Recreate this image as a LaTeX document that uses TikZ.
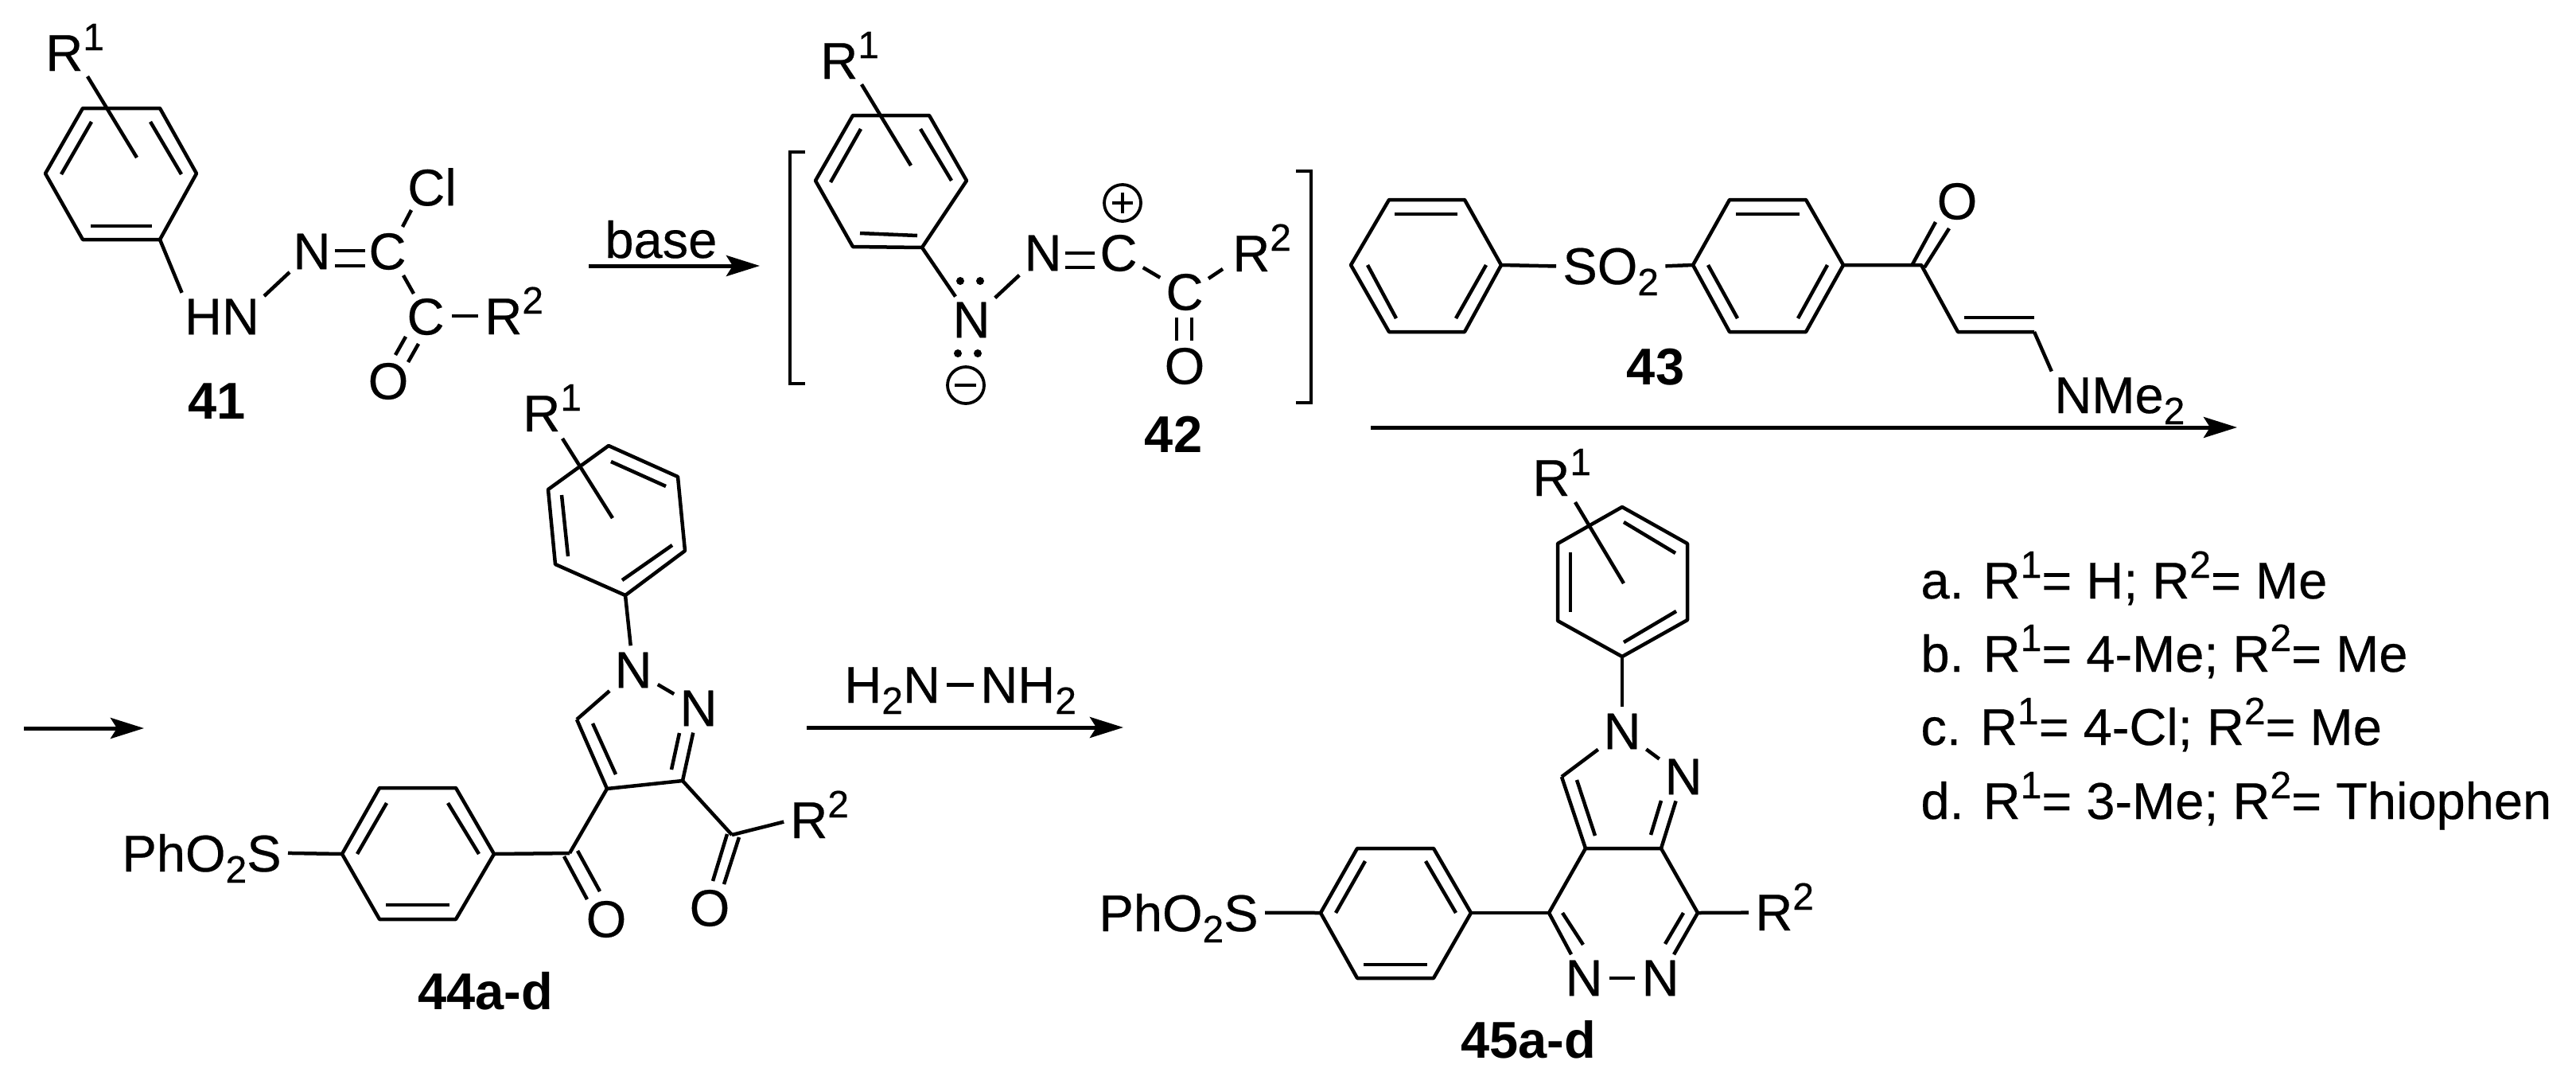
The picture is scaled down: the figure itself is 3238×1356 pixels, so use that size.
\documentclass[tikz,border=0pt]{standalone}
\usepackage{fontspec}
\setmainfont{Liberation Sans}[FakeBold=0.35,BoldFeatures={FakeBold=0}]
\usetikzlibrary{arrows.meta}
\newcommand\chemup[1]{\smash{\raisebox{13pt}{\fontsize{24}{24}\selectfont #1}}}
\newcommand\chemdn[1]{\smash{\raisebox{-7pt}{\fontsize{24}{24}\selectfont #1}}}
\newcommand\pbond[3]{\coordinate (#1a) at (#2); \coordinate (#1b) at (#3); \draw[bond] (#1a) -- (#1b);}
\newcommand\ringsix[7]{\coordinate (#1a) at (#2); \coordinate (#1b) at (#3); \coordinate (#1c) at (#4); \coordinate (#1d) at (#5); \coordinate (#1e) at (#6); \coordinate (#1f) at (#7); \draw[bond] (#1a)--(#1b)--(#1c)--(#1d)--(#1e)--(#1f)--cycle;}
\tikzset{
  bond/.style={draw=black,line width=2.25pt,line join=round},
  ba/.style={bond,shorten >=4pt},
  ab/.style={bond,shorten <=4pt},
  aa/.style={bond,shorten <=4pt,shorten >=4pt},
  atom/.style={inner sep=0pt,font=\fontsize{32.5}{39}\selectfont},
  lab/.style={inner sep=0pt,anchor=base west,font=\fontsize{32.5}{39}\selectfont},
  cmp/.style={inner sep=0pt,anchor=base,font=\fontsize{32.5}{39}\selectfont\bfseries},
  rxn/.style={draw=black,line width=2.5pt,-{Stealth[length=21pt,width=13pt,inset=4pt]}},
  chg/.style={circle,draw=black,line width=1.9pt,minimum size=23pt,inner sep=0pt},
  ldot/.style={circle,fill=black,minimum size=5pt,inner sep=0pt}
}
\begin{document}
\begin{tikzpicture}[x=0.5pt,y=-0.5pt]
\useasboundingbox (0,0) rectangle (3238,1356);

% ---------- 41 ----------
\ringsix{r41}{57,218}{104,136}{201,136}{247,218}{201,301}{104,301}
\pbond{i41x}{77,219}{115,153}
\pbond{i41y}{189,153}{228,219}
\pbond{i41z}{114,284}{191,284}
\pbond{s41}{110,96}{172,198}
\node[lab] (R41) at (57,89) {R\chemup{1}};
\node[atom] (hn41) at (279,398) {HN};
\node[atom] (n41) at (392,316) {N};
\node[atom] (c41a) at (487,316) {C};
\node[atom] (cl41) at (543,235) {Cl};
\node[atom] (c41b) at (535,398) {C};
\node[atom] (o41) at (488,479) {O};
\node[lab] (R41b) at (609,420) {R\chemup{2}};
\draw[ba] (r41e) -- (hn41.north west);
\pbond{b41a}{332,372}{364,342}
\pbond{d41a}{421,315}{459,315}
\pbond{d41b}{421,334}{459,334}
\pbond{b41b}{506,285}{517,264}
\pbond{b41c}{507,346}{520,369}
\pbond{b41d}{568,397}{601,397}
\pbond{d41c}{510,423}{497,446}
\pbond{d41d}{526,432}{513,455}
\node[cmp] (l41) at (273,526) {41};
\coordinate (a1s) at (740,334); \coordinate (a1e) at (955,334);
\draw[rxn] (a1s) -- (a1e);
\node[lab] (base) at (760,324) {base};

% ---------- 42 ----------
\coordinate (bl1) at (1012,191); \coordinate (bl2) at (993,191); \coordinate (bl3) at (993,482); \coordinate (bl4) at (1012,482);
\draw[bond,line join=miter] (bl1)--(bl2)--(bl3)--(bl4);
\coordinate (br1) at (1629,215); \coordinate (br2) at (1648,215); \coordinate (br3) at (1648,506); \coordinate (br4) at (1629,506);
\draw[bond,line join=miter] (br1)--(br2)--(br3)--(br4);
\ringsix{r42}{1025,227}{1072,145}{1168,145}{1215,227}{1159,311}{1072,310}
\pbond{i42x}{1044,229}{1082,162}
\pbond{i42y}{1157,162}{1196,227}
\pbond{i42z}{1081,293}{1153,296}
\pbond{s42}{1083,106}{1145,208}
\node[lab] (R42) at (1031,99) {R\chemup{1}};
\node[atom] (n42a) at (1221,402) {N};
\node[atom] (n42b) at (1311,318) {N};
\node[atom] (c42a) at (1406,318) {C};
\node[atom] (c42b) at (1489,367) {C};
\node[atom] (o42) at (1489,460) {O};
\node[lab] (R42b) at (1549,341) {R\chemup{2}};
\draw[ba] (r42e) -- (n42a);
\draw[aa] (n42a) -- (n42b);
\pbond{d42a}{1339,318}{1376,318}
\pbond{d42b}{1339,336}{1376,336}
\draw[aa] (c42a) -- (c42b);
\pbond{b42c}{1519,350}{1537,338}
\pbond{d42c}{1479,399}{1479,428}
\pbond{d42d}{1498,399}{1498,428}
\node[ldot] (lp1) at (1207,353) {};
\node[ldot] (lp2) at (1232,353) {};
\node[ldot] (lp3) at (1204,444) {};
\node[ldot] (lp4) at (1229,444) {};
\node[chg] (minus42) at (1214,484) {};
\pbond{m42}{1200,484}{1227,484}
\node[chg] (plus42) at (1411,255) {};
\pbond{p42a}{1398,255}{1424,255}
\pbond{p42b}{1411,242}{1411,268}
\node[cmp] (l42) at (1475,568) {42};

% ---------- 43 ----------
\ringsix{r43a}{1698,333}{1746,251}{1841,251}{1887,333}{1841,417}{1746,417}
\pbond{i43a}{1753,269}{1832,269}
\pbond{i43b}{1719,333}{1755,400}
\pbond{i43c}{1868,333}{1830,400}
\node[lab] (so43) at (1964,357) {SO\chemdn{2}};
\draw[ba] (r43ad) -- (so43.west);
\ringsix{r43b}{2128,333}{2174,251}{2270,251}{2317,333}{2270,417}{2174,417}
\pbond{i43d}{2182,269}{2262,269}
\pbond{i43e}{2147,333}{2184,400}
\pbond{i43f}{2297,333}{2260,400}
\draw[ab] (so43.east) -- (r43ba);
\coordinate (c43) at (2415,333);
\coordinate (ch43a) at (2461,417);
\coordinate (ch43b) at (2557,417);
\draw[bond] (r43bd) -- (c43) -- (ch43a) -- (ch43b);
\pbond{d43a}{2404,332}{2433,279}
\pbond{d43b}{2419,336}{2450,287}
\pbond{d43c}{2469,399}{2557,399}
\node[atom] (o43) at (2460,253) {O};
\node[lab] (nme43) at (2582,519) {NMe\chemdn{2}};
\draw[ba] (ch43b) -- (nme43.north west);
\node[cmp] (l43) at (2081,483) {43};
\coordinate (a2s) at (1723,537); \coordinate (a2e) at (2812,537);
\draw[rxn] (a2s) -- (a2e);

% ---------- 44 ----------
\coordinate (a3s) at (30,915); \coordinate (a3e) at (181,915);
\draw[rxn] (a3s) -- (a3e);
\ringsix{r44a}{765,560}{852,599}{861,692}{786,748}{698,709}{689,615}
\pbond{i44a}{768,580}{837,611}
\pbond{i44b}{706,622}{714,699}
\pbond{i44c}{782,729}{845,685}
\pbond{s44}{707,551}{770,651}
\node[lab] (R44) at (657,542) {R\chemup{1}};
\node[atom] (n44a) at (796,842) {N};
\node[atom] (n44b) at (878,890) {N};
\coordinate (ch44) at (725,904);
\coordinate (c44a) at (763,991);
\coordinate (c44b) at (858,981);
\draw[ba] (r44ad) -- (n44a);
\draw[aa] (n44a) -- (n44b);
\draw[ab] (n44a) -- (ch44);
\draw[bond] (ch44) -- (c44a) -- (c44b);
\draw[ba] (c44b) -- (n44b);
\pbond{i44d}{745,909}{774,973}
\pbond{i44e}{844,967}{854,921}
\coordinate (c44c) at (716,1072);
\coordinate (c44d) at (920,1049);
\draw[bond] (c44a) -- (c44c);
\draw[bond] (c44b) -- (c44d);
\node[lab] (R44b) at (993,1053) {R\chemup{2}};
\draw[ba] (c44d) -- (R44b.west);
\node[atom] (o44a) at (892,1141) {O};
\node[atom] (o44b) at (762,1155) {O};
\pbond{d44a}{929,1052}{910,1111}
\pbond{d44b}{914,1048}{896,1107}
\pbond{d44c}{726,1069}{754,1120}
\pbond{d44d}{709,1076}{738,1130}
\ringsix{r44b}{621,1073}{573,990}{477,990}{430,1073}{477,1155}{573,1155}
\draw[bond] (r44ba) -- (c44c);
\pbond{i44f}{563,1009}{602,1073}
\pbond{i44g}{486,1009}{449,1073}
\pbond{i44h}{485,1137}{565,1137}
\node[lab,anchor=base east] (ph44) at (354,1095) {PhO\chemdn{2}S};
\draw[ab] (ph44.east) -- (r44bd);
\node[cmp] (l44) at (610,1268) {44a-d};

% ---------- hydrazine arrow ----------
\node[lab] (h2n) at (1061,883) {H\chemdn{2}N};
\node[lab] (nh2) at (1232,883) {NH\chemdn{2}};
\draw[aa] (h2n.east) -- (nh2.west);
\coordinate (a4s) at (1014,914); \coordinate (a4e) at (1412,914);
\draw[rxn] (a4s) -- (a4e);

% ---------- 45 ----------
\ringsix{r45a}{2039,637}{2121,683}{2121,779}{2039,825}{1958,780}{1958,683}
\pbond{i45a}{2041,656}{2106,695}
\pbond{i45b}{1974,694}{1974,769}
\pbond{i45c}{2041,807}{2107,768}
\pbond{s45}{1980,631}{2041,733}
\node[lab] (R45) at (1926,623) {R\chemup{1}};
\node[atom] (n45a) at (2039,919) {N};
\node[atom] (n45b) at (2116,976) {N};
\coordinate (ch45) at (1963,976);
\coordinate (c45a) at (1993,1066);
\coordinate (c45b) at (2088,1066);
\coordinate (c45c) at (1947,1147);
\coordinate (c45d) at (2134,1147);
\draw[ba] (r45ad) -- (n45a);
\draw[aa] (n45a) -- (n45b);
\draw[ab] (n45a) -- (ch45);
\draw[bond] (ch45) -- (c45a) -- (c45b);
\draw[ba] (c45b) -- (n45b);
\pbond{i45d}{1982,980}{2005,1050}
\pbond{i45e}{2075,1049}{2088,1006}
\draw[bond] (c45a) -- (c45c);
\draw[bond] (c45b) -- (c45d);
\node[atom] (n45c) at (1991,1229) {N};
\node[atom] (n45d) at (2087,1229) {N};
\draw[ba] (c45c) -- (n45c);
\draw[ba] (c45d) -- (n45d);
\draw[aa] (n45c) -- (n45d);
\pbond{i45f}{1964,1147}{1990,1187}
\pbond{i45g}{2116,1147}{2093,1186}
\node[lab] (R45b) at (2206,1169) {R\chemup{2}};
\draw[ba] (c45d) -- (R45b.west);
\ringsix{r45b}{1849,1147}{1802,1066}{1706,1066}{1660,1147}{1706,1229}{1802,1229}
\draw[bond] (r45ba) -- (c45c);
\pbond{i45h}{1792,1082}{1830,1147}
\pbond{i45i}{1716,1082}{1679,1147}
\pbond{i45j}{1714,1212}{1794,1212}
\node[lab,anchor=base east] (ph45) at (1582,1170) {PhO\chemdn{2}S};
\draw[ab] (ph45.east) -- (r45bd);
\node[cmp] (l45) at (1921,1329) {45a-d};

% ---------- legend ----------
\node[lab] (la) at (2414,752) {a. R\chemup{1}= H; R\chemup{2}= Me};
\node[lab] (lb) at (2414,844) {b. R\chemup{1}= 4-Me; R\chemup{2}= Me};
\node[lab] (lc) at (2414,936) {c. R\chemup{1}= 4-Cl; R\chemup{2}= Me};
\node[lab] (ld) at (2414,1029) {d. R\chemup{1}= 3-Me; R\chemup{2}= Thiophen};
\end{tikzpicture}
\end{document}
